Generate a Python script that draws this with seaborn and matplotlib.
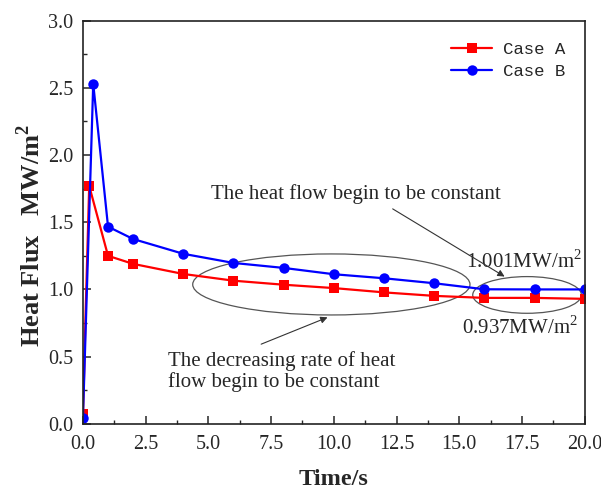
import matplotlib
matplotlib.use("Agg")
import matplotlib.pyplot as plt
import seaborn as sns
import pandas as pd
from matplotlib.patches import Ellipse
from matplotlib.ticker import MultipleLocator, FormatStrFormatter

time_a = [0.0, 0.05, 0.1, 0.25, 1, 2, 4, 6, 8, 10, 12, 14, 16, 18, 20]
flux_a = [0.07, 0.40, 0.78, 1.77, 1.25, 1.19, 1.115, 1.065, 1.035, 1.01, 0.978, 0.952, 0.937, 0.937, 0.930]
time_b = [0.0, 0.41, 1, 2, 4, 6, 8, 10, 12, 14, 16, 18, 20]
flux_b = [0.04, 2.53, 1.467, 1.375, 1.265, 1.197, 1.16, 1.113, 1.083, 1.046, 1.001, 1.000, 1.000]
labels = ["Case A", "Case B"]

sns.set_style("ticks")
serif = ["Liberation Serif", "DejaVu Serif"]
plt.rcParams['font.family'] = serif
plt.rcParams['mathtext.fontset'] = 'custom'
plt.rcParams['mathtext.rm'] = 'Liberation Serif'
plt.rcParams['mathtext.bf'] = 'Liberation Serif:bold'

fig = plt.figure(figsize=(6.01, 4.90), dpi=100)
ax = fig.add_axes([0.138, 0.135, 0.835, 0.823])

df_a = pd.DataFrame({"t": time_a, "q": flux_a})
df_b = pd.DataFrame({"t": time_b, "q": flux_b})
marks_a = [0] + list(range(3, len(time_a)))
sns.lineplot(data=df_a, x="t", y="q", ax=ax, color="#ff0000", marker="s", markersize=6.5,
             markeredgewidth=0, linewidth=1.6, label=labels[0], sort=False, markevery=marks_a)
sns.lineplot(data=df_b, x="t", y="q", ax=ax, color="#0000ff", marker="o", markersize=7.5,
             markeredgewidth=0, linewidth=1.6, label=labels[1], sort=False)

ax.set_xlim(0, 20)
ax.set_ylim(0, 3.0)
ax.xaxis.set_major_locator(MultipleLocator(2.5))
ax.xaxis.set_minor_locator(MultipleLocator(1.25))
ax.yaxis.set_major_locator(MultipleLocator(0.5))
ax.yaxis.set_minor_locator(MultipleLocator(0.25))
ax.xaxis.set_major_formatter(FormatStrFormatter('%.1f'))
ax.yaxis.set_major_formatter(FormatStrFormatter('%.1f'))
ax.tick_params(which='major', direction='in', length=6, width=1.1, labelsize=14.5, pad=8)
ax.tick_params(axis='y', which='major', pad=7)
ax.tick_params(which='minor', direction='in', length=3, width=1.0)
for s in ax.spines.values():
    s.set_linewidth(1.2)
    s.set_color("#222222")

ax.set_xlabel("Time/s", fontsize=17.5, fontweight='bold', labelpad=11)
ax.set_ylabel("Heat Flux   MW/m$^\\mathbf{2}$", fontsize=19, fontweight='bold')
ax.yaxis.set_label_coords(-0.076, 0.466)

leg = ax.legend(loc='upper right', frameon=False, bbox_to_anchor=(0.992, 0.985),
                prop={'family': ['Liberation Mono', 'DejaVu Sans Mono'], 'size': 12.5},
                handlelength=2.4, handletextpad=0.6, labelspacing=0.35)

# ellipses
e1 = Ellipse((9.9, 1.037), 11.05, 0.454, fill=False, edgecolor="#555555", linewidth=0.9)
e2 = Ellipse((17.7, 0.959), 4.33, 0.273, fill=False, edgecolor="#555555", linewidth=0.9)
ax.add_patch(e1)
ax.add_patch(e2)

fs = 15
ax.text(5.1, 1.71, "The heat flow begin to be constant", fontsize=fs, va='center', ha='left')
ax.text(3.4, 0.39, "The decreasing rate of heat\nflow begin to be constant", fontsize=fs,
        va='center', ha='left', linespacing=1.12)
ax.text(15.25, 1.21, "1.001MW/m$^2$", fontsize=fs, va='center', ha='left')
ax.text(15.1, 0.72, "0.937MW/m$^2$", fontsize=fs, va='center', ha='left')

ax.annotate("", xy=(16.9, 1.085), xytext=(12.25, 1.61),
            arrowprops=dict(arrowstyle="-|>", color="#333333", lw=0.8, mutation_scale=10))
ax.annotate("", xy=(9.85, 0.80), xytext=(7.0, 0.585),
            arrowprops=dict(arrowstyle="-|>", color="#333333", lw=0.8, mutation_scale=10))

fig.savefig("out.png", dpi=100)
